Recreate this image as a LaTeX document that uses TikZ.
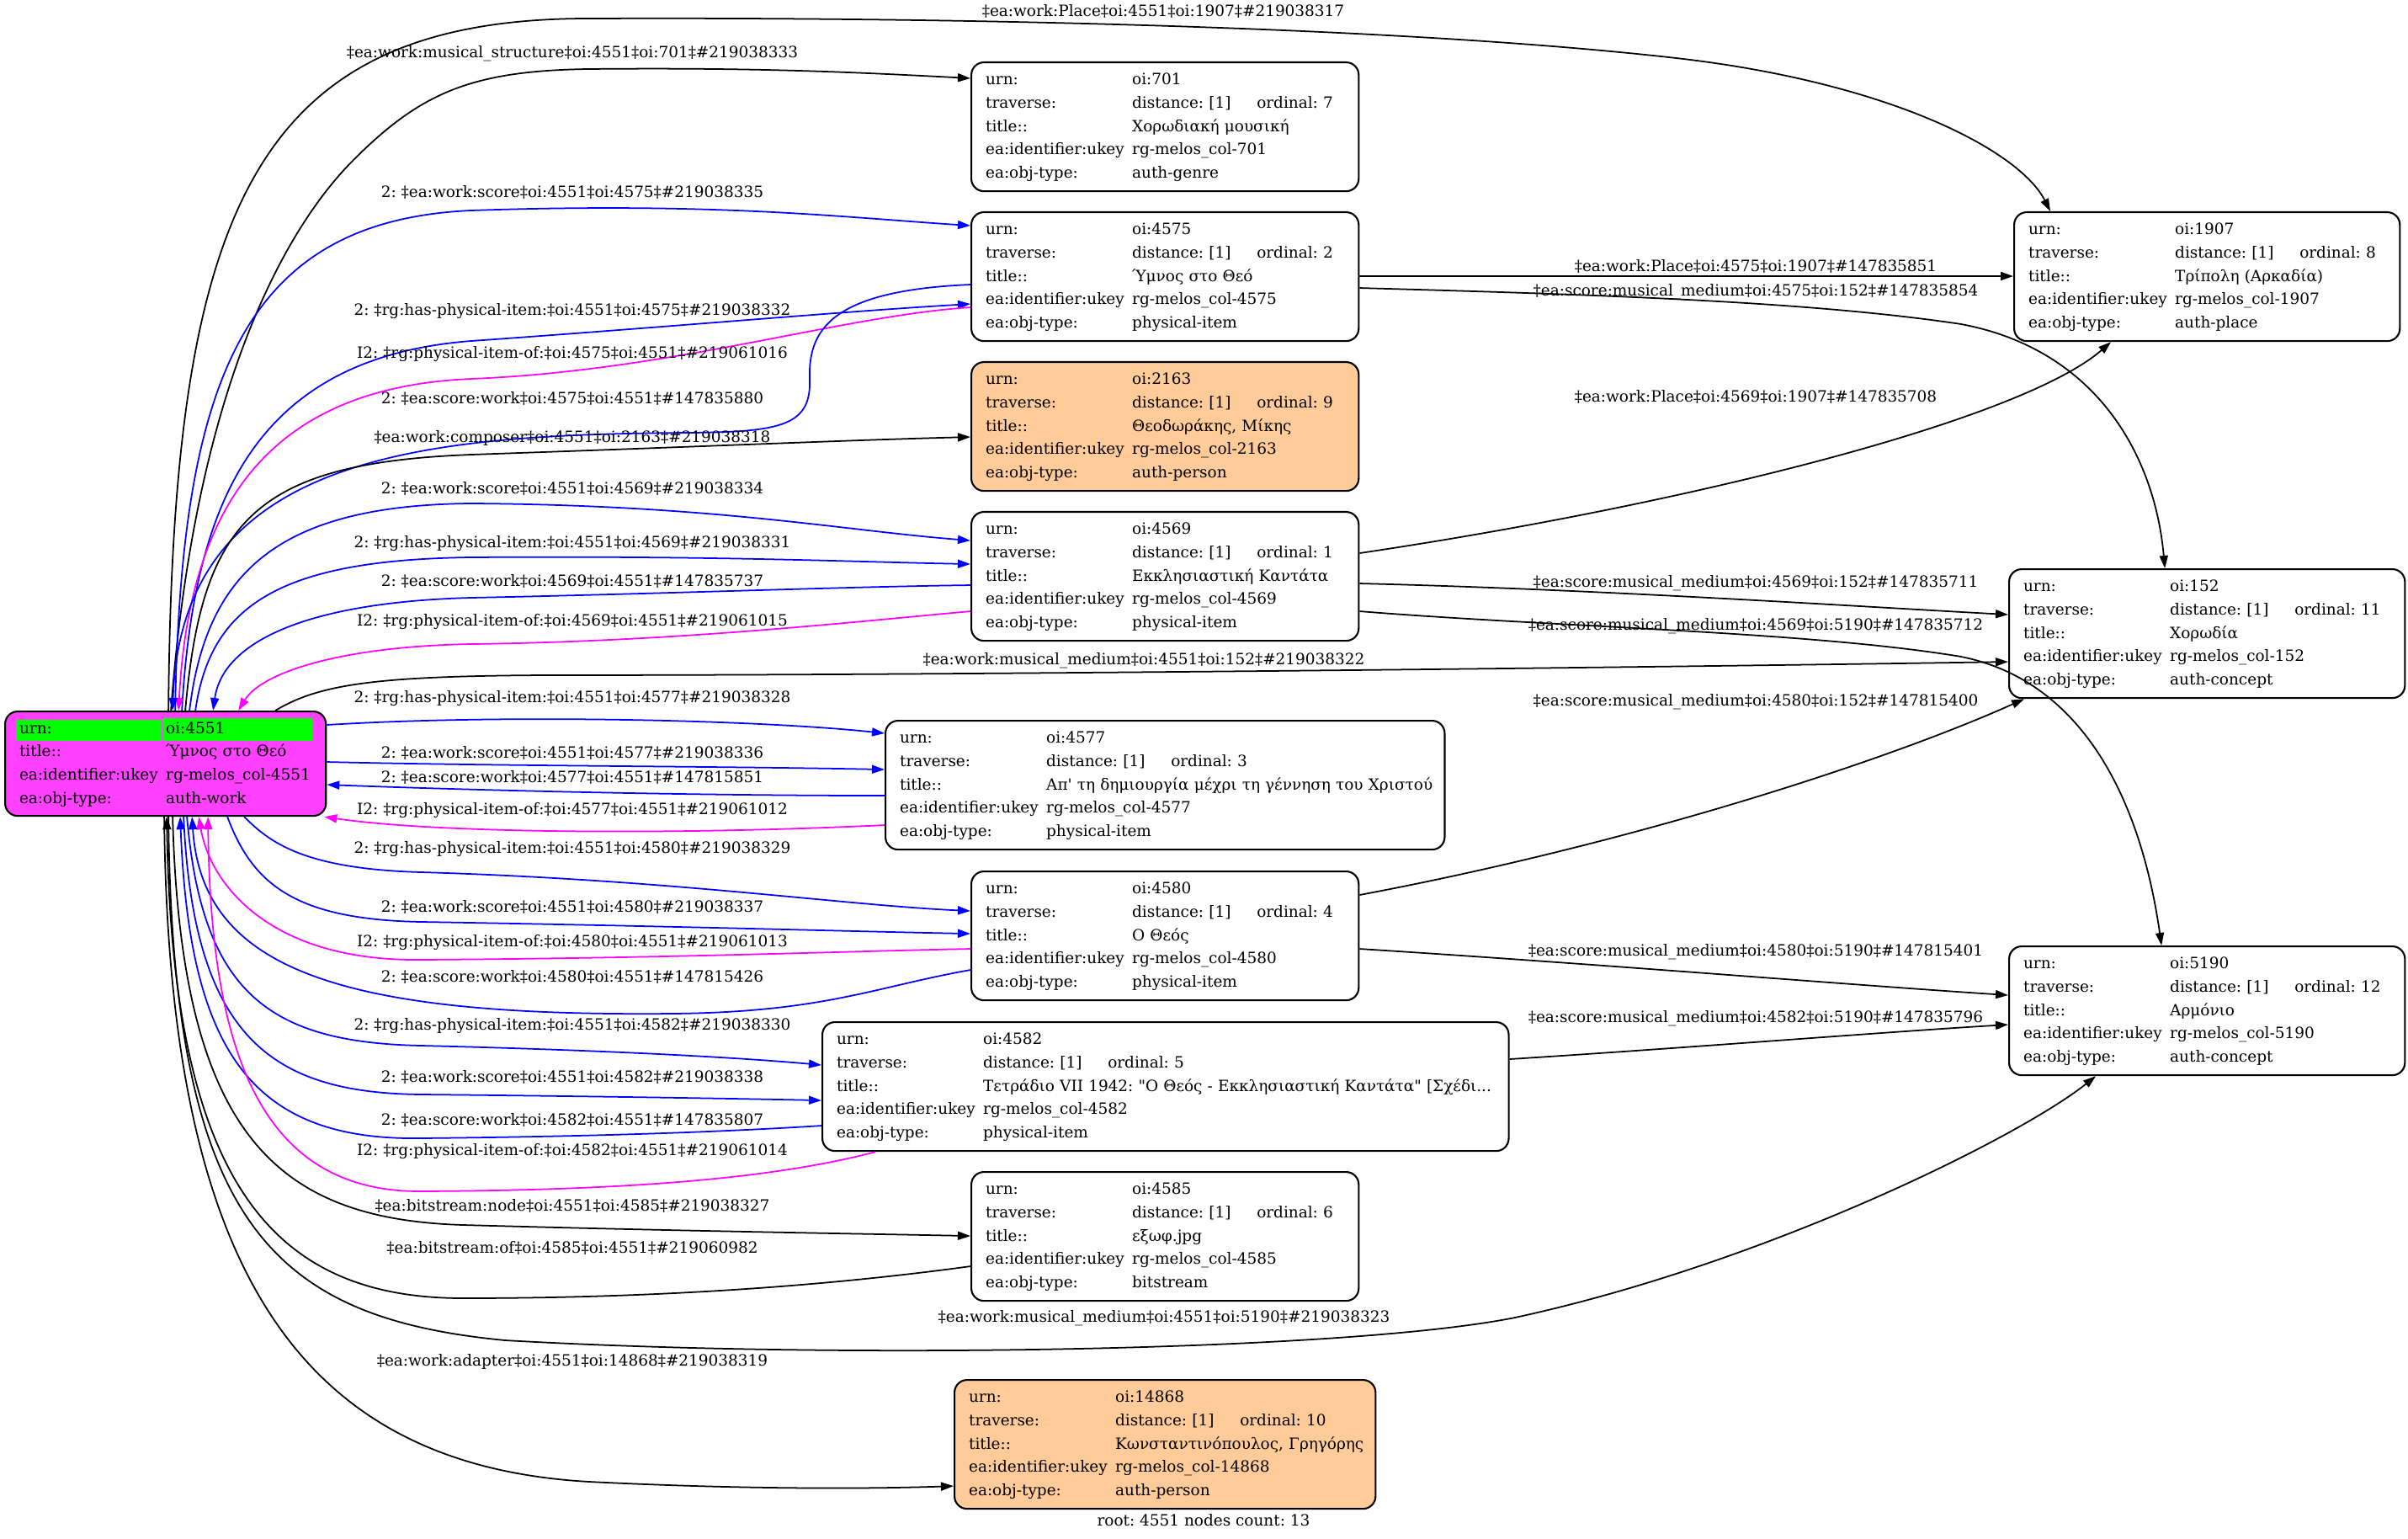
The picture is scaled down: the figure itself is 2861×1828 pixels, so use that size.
\documentclass[tikz,border=0pt]{standalone}
\usepackage{fontspec}
\setmainfont{DejaVu Serif}[Ligatures=TeXOff]
\usepackage{xcolor}
\usepackage{tikz}
\usetikzlibrary{arrows.meta}
\usetikzlibrary{shapes,positioning}
\definecolor{urnGreen}{HTML}{00FF00}
\definecolor{rootPink}{HTML}{FF40FF}
\definecolor{personOrange}{HTML}{FFCC99}
\definecolor{scoreBlue}{HTML}{0000FF}
\definecolor{inverseMagenta}{HTML}{FF00FF}
\newcommand{\objfont}{\fontsize{5.25pt}{7.87pt}\selectfont\frenchspacing}
\tikzset{>={Triangle[length=0.15cm, width=0.10cm]}}
\tikzset{rel-line/.style={->, line width=0.5pt}}
\tikzset{score-line/.style={rel-line, color=scoreBlue}}
\tikzset{inverse-line/.style={rel-line, color=inverseMagenta}}
\tikzset{rel-label/.style={font=\objfont, inner sep=0}}
\tikzset{obj-node/.style={draw, line width=0.6pt, rounded corners=0.15cm, anchor=north west,
    inner xsep=0.17cm, inner ysep=0, minimum height=1.53cm, align=left, font=\objfont}}
\tikzset{person-node/.style={obj-node, fill=personOrange}}
\newcommand{\urncell}[2]{{\setlength{\fboxsep}{0.04cm}\hspace*{-0.04cm}%
    \colorbox{urnGreen}{\makebox[#1][l]{\rule[-0.045cm]{0pt}{0.17cm}#2}}}}
\newcommand{\objnode}[8] {
    \node[#3] (#1) at #2 {%
        \begin{tabular}{@{}p{1.74cm}@{}l@{}}
            urn: & #4\\
            traverse: & \makebox[1.48cm][l]{distance: [1]}ordinal: #5\\
            title:: & #6\\
            ea:identifier:ukey & #7\\
            ea:obj-type: & #8
        \end{tabular}};
}

\begin{document}
\begin{tikzpicture}[x=0.01cm, y=-0.01cm]
    \useasboundingbox (0,0) rectangle (2861,1828);

    \node[obj-node, fill=rootPink, minimum height=1.24cm, text width=3.47cm] (root) at (5,844) {%
        \begin{tabular}{@{}p{1.74cm}@{}l@{}}
            \urncell{1.65cm}{urn:} & \urncell{1.70cm}{oi:4551}\\
            title:: & Ύμνος στο Θεό\\
            ea:identifier:ukey & rg-melos\_col-4551\\
            ea:obj-type: & auth-work
        \end{tabular}};

    \objnode{p701}{(1153,73)}{obj-node, text width=4.26cm}{oi:701}{7}{Χορωδιακή μουσική}{rg-melos\_col-701}{auth-genre}
    \objnode{p4575}{(1153,251)}{obj-node, text width=4.26cm}{oi:4575}{2}{Ύμνος στο Θεό}{rg-melos\_col-4575}{physical-item}
    \objnode{p2163}{(1153,429)}{person-node, text width=4.26cm}{oi:2163}{9}{Θεοδωράκης, Μίκης}{rg-melos\_col-2163}{auth-person}
    \objnode{p4569}{(1153,607)}{obj-node, text width=4.26cm}{oi:4569}{1}{Εκκλησιαστική Καντάτα}{rg-melos\_col-4569}{physical-item}
    \objnode{p4577}{(1051,855)}{obj-node, text width=6.30cm}{oi:4577}{3}{Απ' τη δημιουργία μέχρι τη γέννηση του Χριστού}{rg-melos\_col-4577}{physical-item}
    \objnode{p4580}{(1153,1034)}{obj-node, text width=4.26cm}{oi:4580}{4}{Ο Θεός}{rg-melos\_col-4580}{physical-item}
    \objnode{p4582}{(976,1213)}{obj-node, text width=7.81cm}{oi:4582}{5}{Τετράδιο VII 1942: "Ο Θεός - Εκκλησιαστική Καντάτα" [Σχέδι...}{rg-melos\_col-4582}{physical-item}
    \objnode{p4585}{(1153,1391)}{obj-node, text width=4.26cm}{oi:4585}{6}{εξωφ.jpg}{rg-melos\_col-4585}{bitstream}
    \objnode{p14868}{(1133,1638)}{person-node, text width=4.66cm}{oi:14868}{10}{Κωνσταντινόπουλος, Γρηγόρης}{rg-melos\_col-14868}{auth-person}
    \objnode{p1907}{(2392,251)}{obj-node, text width=4.24cm}{oi:1907}{8}{Τρίπολη (Αρκαδία)}{rg-melos\_col-1907}{auth-place}
    \objnode{p152}{(2386,675)}{obj-node, text width=4.36cm}{oi:152}{11}{Χορωδία}{rg-melos\_col-152}{auth-concept}
    \objnode{p5190}{(2386,1123)}{obj-node, text width=4.36cm}{oi:5190}{12}{Αρμόνιο}{rg-melos\_col-5190}{auth-concept}

    \node[font=\objfont] (footer) at (1430,1806) {root: 4551 nodes count: 13};

    % root, upper fan
    \draw[rel-line] ([xshift=1.95cm]root.north west) .. controls (205,250) and (300,22) .. (700,22)
        .. controls (1200,20) and (1700,35) .. (2000,70)
        .. controls (2250,100) and (2400,180) .. ([xshift=0.44cm]p1907.north west);
    \node[rel-label] (l1) at (1382,13) {‡ea:work:Place‡oi:4551‡oi:1907‡\#219038317};
    \draw[rel-line] ([xshift=1.98cm]root.north west) .. controls (230,480) and (330,280) .. (420,190)
        .. controls (500,110) and (560,84) .. (700,82)
        .. controls (900,80) and (1020,86) .. ([yshift=-0.20cm]p701.north west);
    \node[rel-label] (l2) at (680,64) {‡ea:work:musical\_structure‡oi:4551‡oi:701‡\#219038333};
    \draw[score-line] ([xshift=2.03cm]root.north west) .. controls (215,450) and (290,262) .. (560,250)
        .. controls (850,240) and (1000,258) .. ([yshift=-0.17cm]p4575.north west);
    \node[rel-label] (l3) at (680,228) {2: ‡ea:work:score‡oi:4551‡oi:4575‡\#219038335};
    \draw[score-line] ([xshift=2.11cm]root.north west) .. controls (230,600) and (300,425) .. (560,405)
        .. controls (800,388) and (1000,370) .. ([yshift=-1.10cm]p4575.north west);
    \node[rel-label] (l4) at (680,370) {2: ‡rg:has-physical-item:‡oi:4551‡oi:4575‡\#219038332};
    \draw[inverse-line] ([yshift=-1.14cm]p4575.north west) .. controls (1000,375) and (800,440) .. (560,450)
        .. controls (320,460) and (225,600) .. ([xshift=2.07cm]root.north west);
    \node[rel-label] (l5) at (680,421) {I2: ‡rg:physical-item-of:‡oi:4575‡oi:4551‡\#219061016};
    \draw[score-line] ([yshift=-0.87cm]p4575.north west) .. controls (990,345) and (960,390) .. (962,450)
        .. controls (964,505) and (930,513) .. (820,514)
        .. controls (500,516) and (215,540) .. ([xshift=2.00cm]root.north west);
    \node[rel-label] (l6) at (680,473) {2: ‡ea:score:work‡oi:4575‡oi:4551‡\#147835880};
    \draw[rel-line] ([xshift=2.15cm]root.north west) .. controls (240,620) and (300,550) .. (560,540)
        .. controls (850,530) and (1000,523) .. ([yshift=-0.90cm]p2163.north west);
    \node[rel-label] (l7) at (680,520) {‡ea:work:composer‡oi:4551‡oi:2163‡\#219038318};
    \draw[score-line] ([xshift=2.20cm]root.north west) .. controls (245,680) and (330,600) .. (560,598)
        .. controls (850,600) and (1000,630) .. ([yshift=-0.35cm]p4569.north west);
    \node[rel-label] (l8) at (680,580) {2: ‡ea:work:score‡oi:4551‡oi:4569‡\#219038334};
    \draw[score-line] ([xshift=2.27cm]root.north west) .. controls (250,720) and (330,665) .. (560,662)
        .. controls (850,660) and (1000,667) .. ([yshift=-0.63cm]p4569.north west);
    \node[rel-label] (l9) at (680,646) {2: ‡rg:has-physical-item:‡oi:4551‡oi:4569‡\#219038331};
    \draw[score-line] ([yshift=-0.88cm]p4569.north west) .. controls (1000,697) and (800,705) .. (560,710)
        .. controls (370,715) and (265,760) .. ([xshift=2.48cm]root.north west);
    \node[rel-label] (l10) at (680,690) {2: ‡ea:score:work‡oi:4569‡oi:4551‡\#147835737};
    \draw[inverse-line] ([yshift=-1.19cm]p4569.north west) .. controls (1000,740) and (800,762) .. (560,765)
        .. controls (400,768) and (310,800) .. ([xshift=2.78cm]root.north west);
    \node[rel-label] (l11) at (680,739) {I2: ‡rg:physical-item-of:‡oi:4569‡oi:4551‡\#219061015};
    \draw[rel-line] ([xshift=3.22cm]root.north west) .. controls (380,812) and (450,803) .. (650,802)
        .. controls (1200,802) and (2000,792) .. ([yshift=-1.11cm]p152.north west);
    \node[rel-label] (l12) at (1359,785) {‡ea:work:musical\_medium‡oi:4551‡oi:152‡\#219038322};

    % root, right side
    \draw[score-line] ([yshift=-0.17cm]root.north east) .. controls (600,848) and (900,855) .. ([yshift=-0.16cm]p4577.north west);
    \node[rel-label] (l13) at (680,830) {2: ‡rg:has-physical-item:‡oi:4551‡oi:4577‡\#219038328};
    \draw[score-line] ([yshift=-0.61cm]root.north east) .. controls (600,910) and (850,910) .. ([yshift=-0.59cm]p4577.north west);
    \node[rel-label] (l14) at (680,894) {2: ‡ea:work:score‡oi:4551‡oi:4577‡\#219038336};
    \draw[score-line] ([yshift=-0.90cm]p4577.north west) .. controls (850,945) and (600,940) .. ([yshift=-0.88cm]root.north east);
    \node[rel-label] (l15) at (680,923) {2: ‡ea:score:work‡oi:4577‡oi:4551‡\#147815851};
    \draw[inverse-line] ([yshift=-1.25cm]p4577.north west) .. controls (800,992) and (520,990) .. ([xshift=-0.03cm]root.south east);
    \node[rel-label] (l16) at (680,963) {I2: ‡rg:physical-item-of:‡oi:4577‡oi:4551‡\#219061012};

    % root, lower fan
    \draw[score-line] ([xshift=2.85cm]root.south west) .. controls (320,1000) and (360,1032) .. (500,1036)
        .. controls (800,1045) and (1000,1075) .. ([yshift=-0.48cm]p4580.north west);
    \node[rel-label] (l17) at (680,1009) {2: ‡rg:has-physical-item:‡oi:4551‡oi:4580‡\#219038329};
    \draw[score-line] ([xshift=2.65cm]root.south west) .. controls (300,1050) and (350,1092) .. (500,1095)
        .. controls (800,1100) and (1000,1106) .. ([yshift=-0.75cm]p4580.north west);
    \node[rel-label] (l18) at (680,1077) {2: ‡ea:work:score‡oi:4551‡oi:4580‡\#219038337};
    \draw[inverse-line] ([yshift=-0.93cm]p4580.north west) .. controls (1000,1130) and (800,1138) .. (500,1140)
        .. controls (320,1142) and (250,1050) .. ([xshift=2.31cm]root.south west);
    \node[rel-label] (l19) at (680,1120) {I2: ‡rg:physical-item-of:‡oi:4580‡oi:4551‡\#219061013};
    \draw[score-line] ([yshift=-1.18cm]p4580.north west) .. controls (1040,1172) and (980,1202) .. (800,1204)
        .. controls (400,1208) and (240,1150) .. ([xshift=2.23cm]root.south west);
    \node[rel-label] (l20) at (680,1160) {2: ‡ea:score:work‡oi:4580‡oi:4551‡\#147815426};
    \draw[score-line] ([xshift=2.17cm]root.south west) .. controls (240,1180) and (320,1238) .. (500,1242)
        .. controls (750,1248) and (900,1258) .. ([yshift=-0.52cm]p4582.north west);
    \node[rel-label] (l21) at (680,1219) {2: ‡rg:has-physical-item:‡oi:4551‡oi:4582‡\#219038330};
    \draw[score-line] ([xshift=2.13cm]root.south west) .. controls (230,1230) and (320,1298) .. (500,1300)
        .. controls (700,1302) and (880,1305) .. ([yshift=-0.94cm]p4582.north west);
    \node[rel-label] (l22) at (680,1279) {2: ‡ea:work:score‡oi:4551‡oi:4582‡\#219038338};
    \draw[score-line] ([yshift=-1.24cm]p4582.north west) .. controls (850,1345) and (700,1350) .. (500,1352)
        .. controls (300,1355) and (225,1250) .. ([xshift=2.09cm]root.south west);
    \node[rel-label] (l23) at (680,1330) {2: ‡ea:score:work‡oi:4582‡oi:4551‡\#147835807};
    \draw[inverse-line] ([xshift=0.64cm]p4582.south west) .. controls (900,1405) and (700,1414) .. (500,1415)
        .. controls (310,1416) and (250,1250) .. ([xshift=2.42cm]root.south west);
    \node[rel-label] (l24) at (680,1368) {I2: ‡rg:physical-item-of:‡oi:4582‡oi:4551‡\#219061014};
    \draw[rel-line] ([xshift=2.00cm]root.south west) .. controls (215,1350) and (330,1448) .. (550,1455)
        .. controls (800,1462) and (1000,1465) .. ([yshift=-0.77cm]p4585.north west);
    \node[rel-label] (l25) at (680,1432) {‡ea:bitstream:node‡oi:4551‡oi:4585‡\#219038327};
    \draw[rel-line] ([yshift=-1.13cm]p4585.north west) .. controls (1000,1525) and (800,1542) .. (550,1542)
        .. controls (320,1542) and (205,1400) .. ([xshift=1.93cm]root.south west);
    \node[rel-label] (l26) at (680,1482) {‡ea:bitstream:of‡oi:4585‡oi:4551‡\#219060982};
    \draw[rel-line] ([xshift=1.95cm]root.south west) .. controls (205,1450) and (320,1565) .. (600,1592)
        .. controls (1000,1615) and (1600,1605) .. (1800,1565)
        .. controls (2100,1500) and (2400,1350) .. ([xshift=1.04cm]p5190.south west);
    \node[rel-label] (l27) at (1383,1566) {‡ea:work:musical\_medium‡oi:4551‡oi:5190‡\#219038323};
    \draw[rel-line] ([xshift=1.90cm]root.south west) .. controls (200,1500) and (350,1740) .. (700,1760)
        .. controls (900,1770) and (1050,1768) .. ([yshift=-1.27cm]p14868.north west);
    \node[rel-label] (l28) at (680,1617) {‡ea:work:adapter‡oi:4551‡oi:14868‡\#219038319};

    % second level
    \draw[rel-line] ([yshift=-0.77cm]p4575.north east) -- ([yshift=-0.77cm]p1907.north west);
    \node[rel-label] (l29) at (2086,316) {‡ea:work:Place‡oi:4575‡oi:1907‡\#147835851};
    \draw[rel-line] ([yshift=-0.91cm]p4575.north east) .. controls (1900,350) and (2150,358) .. (2330,385)
        .. controls (2490,415) and (2560,540) .. ([xshift=1.86cm]p152.north west);
    \node[rel-label] (l30) at (2086,347) {‡ea:score:musical\_medium‡oi:4575‡oi:152‡\#147835854};
    \draw[rel-line] ([yshift=-0.50cm]p4569.north east) .. controls (2000,600) and (2400,500) .. ([xshift=1.16cm]p1907.south west);
    \node[rel-label] (l31) at (2086,471) {‡ea:work:Place‡oi:4569‡oi:1907‡\#147835708};
    \draw[rel-line] ([yshift=-0.86cm]p4569.north east) .. controls (1900,700) and (2200,720) .. ([yshift=-0.55cm]p152.north west);
    \node[rel-label] (l32) at (2086,693) {‡ea:score:musical\_medium‡oi:4569‡oi:152‡\#147835711};
    \draw[rel-line] ([yshift=-1.19cm]p4569.north east) .. controls (1850,745) and (2150,750) .. (2330,780)
        .. controls (2480,810) and (2545,960) .. ([xshift=1.82cm]p5190.north west);
    \node[rel-label] (l33) at (2086,744) {‡ea:score:musical\_medium‡oi:4569‡oi:5190‡\#147835712};
    \draw[rel-line] ([yshift=-0.29cm]p4580.north east) .. controls (1950,1000) and (2250,900) .. ([xshift=0.19cm]p152.south west);
    \node[rel-label] (l34) at (2086,834) {‡ea:score:musical\_medium‡oi:4580‡oi:152‡\#147815400};
    \draw[rel-line] ([yshift=-0.93cm]p4580.north east) .. controls (1900,1145) and (2200,1170) .. ([yshift=-0.59cm]p5190.north west);
    \node[rel-label] (l35) at (2086,1131) {‡ea:score:musical\_medium‡oi:4580‡oi:5190‡\#147815401};
    \draw[rel-line] ([yshift=-0.45cm]p4582.north east) .. controls (2000,1245) and (2250,1225) .. ([yshift=-0.94cm]p5190.north west);
    \node[rel-label] (l36) at (2086,1210) {‡ea:score:musical\_medium‡oi:4582‡oi:5190‡\#147835796};
\end{tikzpicture}
\end{document}
